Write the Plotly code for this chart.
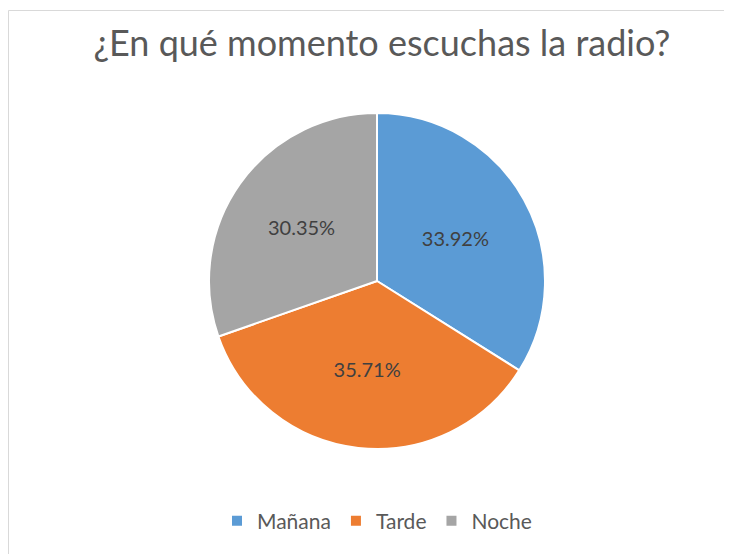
import plotly.graph_objects as go

# page body has an 8px margin; figure coordinates = reference coordinates - 8
OFF = 8
W, H = 732 - OFF, 554 - OFF
labels = ["Mañana", "Tarde", "Noche"]
values = [33.92, 35.71, 30.35]
colors = ["#5B9BD5", "#ED7D31", "#A5A5A5"]
title_text = "¿En qué momento escuchas la radio?"

cx, cy, r = 377 - OFF, 281 - OFF, 168

fig = go.Figure(go.Pie(
    labels=labels,
    values=values,
    sort=False,
    direction="clockwise",
    rotation=0,
    marker=dict(colors=colors, line=dict(color="white", width=2)),
    textposition="inside",
    insidetextorientation="horizontal",
    texttemplate="%{value:.2f}%",
    textfont=dict(color="#404040", size=20, family="Lato"),
    hoverinfo="label+value",
    domain=dict(x=[(cx - r) / W, (cx + r) / W], y=[1 - (cy + r) / H, 1 - (cy - r) / H]),
))

fig.update_layout(
    width=W, height=H,
    margin=dict(l=0, r=0, t=0, b=0),
    paper_bgcolor="white",
    font=dict(family="Lato", color="#595959"),
    title=dict(text=title_text, x=(382 - OFF) / W, xanchor="center", xref="paper",
               y=1 - (43 - OFF) / H, yanchor="middle", yref="paper",
               font=dict(size=36, color="#595959", family="Lato")),
    legend=dict(orientation="h", x=cx / W, xanchor="center", y=1 - (521 - OFF) / H, yanchor="middle",
                font=dict(size=21, color="#595959", family="Lato"), traceorder="normal",
                itemwidth=30),
    shapes=[dict(type="rect", xref="paper", yref="paper", x0=0.5 / W, y0=-0.05, x1=1.05, y1=1 - 2.5 / H,
                 line=dict(color="#D9D9D9", width=1), layer="below")],
)

fig.write_html("out.html")
